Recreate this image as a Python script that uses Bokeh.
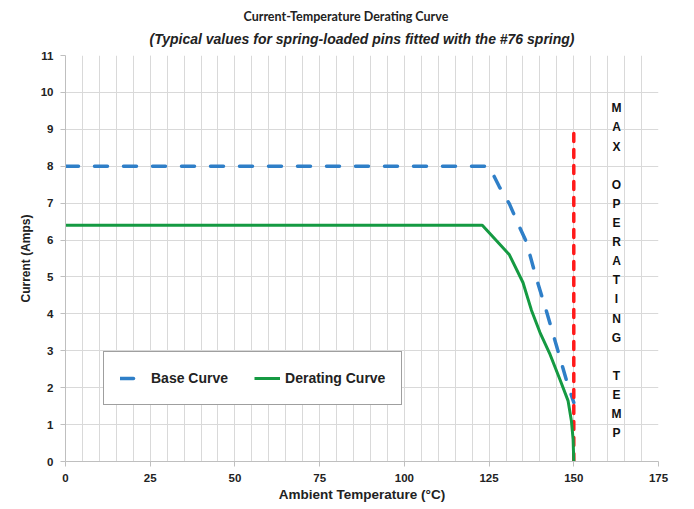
from bokeh.plotting import figure
from bokeh.models import Range1d, SingleIntervalTicker, Title, ColumnDataSource
from bokeh.core.properties import value
from bokeh.embed import file_html
from bokeh.resources import INLINE

# ---- data ----
base_temp = [0, 125, 128, 131, 134, 136, 139, 142, 145, 148, 150]
base_current = [8, 8, 7.45, 6.98, 6.35, 5.95, 4.95, 4.05, 3.1, 2.15, 1.6]

derate_temp = [0, 123, 127, 131, 135, 137.5, 140, 143, 146, 148.3, 149.3, 149.8, 150]
derate_current = [6.4, 6.4, 6.0, 5.6, 4.85, 4.1, 3.5, 2.9, 2.2, 1.65, 1.1, 0.6, 0]

max_temp = 150
max_line_top = 9
max_label = "MAX OPERATING TEMP"
max_label_x = 162.6
max_label_top = 9.57
max_label_step = 0.518

title_main = "Current-Temperature Derating Curve"
title_sub = "(Typical values for spring-loaded pins fitted with the #76 spring)"
x_label = "Ambient Temperature (\u00b0C)"
y_label = "Current (Amps)"

FONT = "Liberation Sans"
GRID = "#d9d9d9"

p = figure(frame_width=593, frame_height=406,
           x_range=Range1d(0, 175), y_range=Range1d(0, 11),
           output_backend="svg", toolbar_location=None,
           min_border_left=65, min_border_right=18,
           min_border_top=55, min_border_bottom=38)
p.background_fill_color = "white"
p.border_fill_color = "white"
p.outline_line_color = None

p.add_layout(Title(text=title_sub, align="center", vertical_align="top",
                   text_font=FONT, text_font_style="bold italic",
                   text_font_size="14px", text_color="#222222",
                   standoff=14), "above")
p.add_layout(Title(text=title_main, align="left", offset=178, text_font="Lato",
                   text_font_style="bold", text_font_size="12.5px",
                   text_color="#222222", standoff=0), "above")

# axes
p.xaxis.ticker = SingleIntervalTicker(interval=25, num_minor_ticks=5)
p.yaxis.ticker = SingleIntervalTicker(interval=1, num_minor_ticks=0)
for ax in (p.xaxis[0], p.yaxis[0]):
    ax.major_label_text_font = FONT
    ax.major_label_text_font_style = "bold"
    ax.major_label_text_font_size = "11.5px"
    ax.major_label_text_color = "#222222"
    ax.axis_line_color = "#bfbfbf"
    ax.major_tick_line_color = "#bfbfbf"
    ax.major_tick_in = 0
    ax.major_tick_out = 5
    ax.minor_tick_line_color = None
    ax.axis_label_text_font = FONT
    ax.axis_label_text_font_style = "bold"
    ax.axis_label_text_color = "#222222"
p.xaxis.major_label_standoff = 7
p.yaxis.major_label_standoff = 7
p.xaxis.axis_label_standoff = 2
p.yaxis.axis_label_standoff = 5
p.xaxis.axis_label = x_label
p.yaxis.axis_label = y_label
p.xaxis.axis_label_text_font_size = "13.5px"
p.yaxis.axis_label_text_font_size = "12px"

p.xgrid.grid_line_color = GRID
p.xgrid.minor_grid_line_color = GRID
p.ygrid.grid_line_color = GRID

# series
p.line(base_temp, base_current, line_color="#2f7fc8", line_width=3.5,
       line_dash="13 16", line_cap="round", legend_label="Base Curve")
p.line([max_temp, max_temp], [0, max_line_top], line_color="#ff1a1a",
       line_width=3.5, line_dash="8 8", line_cap="round")
p.line(derate_temp, derate_current, line_color="#159a42", line_width=3,
       legend_label="Derating Curve")

letters = list(max_label)
src = ColumnDataSource(dict(
    x=[max_label_x] * len(letters),
    y=[max_label_top - i * max_label_step for i in range(len(letters))],
    t=letters))
p.text(x="x", y="y", text="t", source=src, text_font=value(FONT),
       text_font_style="bold", text_font_size="12px", text_color="#111111",
       text_align="center", text_baseline="middle")

lg = p.legend[0]
lg.location = (38, 56)
lg.orientation = "horizontal"
lg.border_line_color = "#404040"
lg.border_line_width = 1
lg.background_fill_color = "white"
lg.background_fill_alpha = 1
lg.label_text_font = FONT
lg.label_text_font_style = "bold"
lg.label_text_font_size = "14px"
lg.label_text_color = "#222222"
lg.padding = 16
lg.spacing = 26
lg.glyph_width = 26
lg.label_standoff = 5
lg.margin = 0

open("out.html", "w").write(file_html(p, INLINE))
